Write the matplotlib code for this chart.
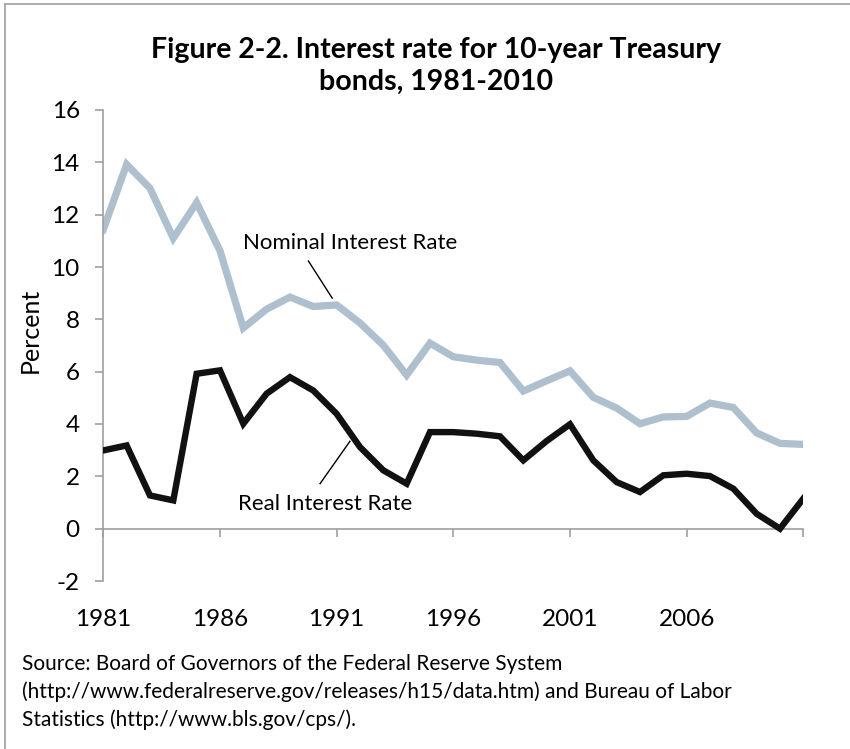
import numpy as np
import matplotlib.pyplot as plt
from matplotlib.lines import Line2D

plt.rcParams['font.family'] = ['Lato', 'DejaVu Sans']
plt.rcParams['axes.unicode_minus'] = False

years = list(range(1981, 2012))
nominal = [11.43, 13.92, 13.01, 11.10, 12.46, 10.62, 7.67, 8.39, 8.85, 8.49,
           8.55, 7.86, 7.01, 5.87, 7.09, 6.57, 6.44, 6.35, 5.26, 5.65,
           6.03, 5.02, 4.61, 4.01, 4.27, 4.29, 4.80, 4.63, 3.66, 3.26, 3.22]
real = [2.99, 3.18, 1.27, 1.08, 5.92, 6.05, 4.01, 5.16, 5.79, 5.28,
        4.39, 3.12, 2.23, 1.72, 3.69, 3.69, 3.63, 3.53, 2.61, 3.35,
        3.99, 2.61, 1.78, 1.40, 2.04, 2.10, 2.01, 1.53, 0.57, 0.00, 1.15]
yticks = list(range(-2, 17, 2))
xticks = list(range(1981, 2012, 5))
xticklabels = ['1981', '1986', '1991', '1996', '2001', '2006', '']

W, H = 850, 749
fig = plt.figure(figsize=(W / 100, H / 100), dpi=100)
ax = fig.add_axes([103.3 / W, 1 - 581 / H, 700 / W, 471 / H])

ax.plot(years, nominal, color='#aebfce', lw=5.2, solid_joinstyle='miter', zorder=2)
ax.plot(years, real, color='#111111', lw=4.6, solid_joinstyle='miter', zorder=3)

ax.set_xlim(1981, 2011)
ax.set_ylim(-2, 16)
ax.set_yticks(yticks)
ax.set_xticks(xticks)
ax.set_xticklabels(xticklabels)

grey = '#a0a0a0'
for s in ['top', 'right']:
    ax.spines[s].set_visible(False)
ax.spines['bottom'].set_position(('data', 0))
for s in ['left', 'bottom']:
    ax.spines[s].set_color(grey)
    ax.spines[s].set_linewidth(1.2)
ax.tick_params(axis='y', direction='out', length=6, width=1.2, color=grey,
               labelsize=17.5, pad=11)
ax.tick_params(axis='x', direction='out', length=6, width=1.2, color=grey,
               labelsize=17.5, pad=52)
ax.patch.set_visible(False)

# series labels with leader lines
ax.text(1991.57, 10.91, 'Nominal Interest Rate', ha='center', va='center', fontsize=16)
ax.plot([1989.79, 1990.81], [10.23, 8.81], color='black', lw=1)
ax.text(1990.52, 0.95, 'Real Interest Rate', ha='center', va='center', fontsize=16)
ax.plot([1990.29, 1991.57], [1.72, 3.34], color='black', lw=1)

fig.text(436 / W, 1 - 66 / H, 'Figure 2-2. Interest rate for 10-year Treasury\nbonds, 1981-2010',
         ha='center', va='center', fontsize=20.5, fontweight='bold', linespacing=1.3)
fig.text(30 / W, 1 - 330 / H, 'Percent', rotation=90, ha='center', va='center', fontsize=18)
fig.text(22 / W, 1 - 692 / H,
         'Source: Board of Governors of the Federal Reserve System\n'
         '(http://www.federalreserve.gov/releases/h15/data.htm) and Bureau of Labor\n'
         'Statistics (http://www.bls.gov/cps/).',
         ha='left', va='center', fontsize=15, linespacing=1.42)

# chart frame
fig.add_artist(Line2D([5 / W, 1], [1 - 4 / H, 1 - 4 / H], color=grey, lw=1.2))
fig.add_artist(Line2D([5 / W, 5 / W], [0, 1 - 4 / H], color=grey, lw=1.2))

fig.savefig('out.png', dpi=100)
